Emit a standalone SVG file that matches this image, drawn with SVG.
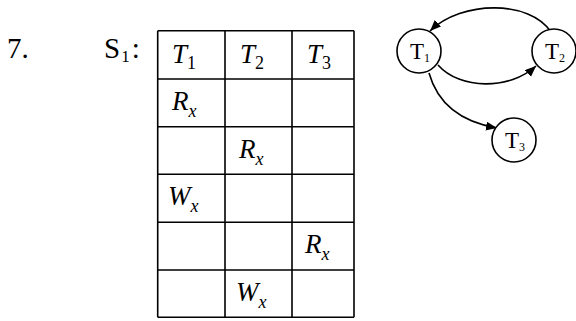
<svg xmlns="http://www.w3.org/2000/svg" width="576" height="321" viewBox="0 0 576 321">
<style>
text{font-family:"Liberation Serif","Times New Roman",serif;fill:#000}
.cell{font-size:27px;font-style:italic}
.sub{font-size:18px;font-style:normal}
.subi{font-size:18px;font-style:italic}
.grid{stroke:#000;stroke-width:1.6;fill:none}
.node circle{fill:#fff;stroke:#000;stroke-width:1.6}
.nt{font-size:23px}
.ns{font-size:12px}
.edge{fill:none;stroke:#000;stroke-width:1.6;marker-end:url(#ah)}
</style>
<defs>
<marker id="ah" markerUnits="userSpaceOnUse" markerWidth="12" markerHeight="10" refX="11" refY="4.5" orient="auto">
<path d="M0,0 L11,4.5 L0,9 z" fill="#000"/>
</marker>
</defs>
<rect width="576" height="321" fill="#fff"/>
<text x="7" y="58" font-size="29">7.</text>
<text x="104" y="58" font-size="29">S<tspan font-size="17" dx="1" dy="4">1</tspan><tspan dx="2" dy="-4">:</tspan></text>
<g id="table">
<path class="grid" d="M157.7 30.7V317.3M225 30.7V317.3M292 30.7V317.3M354 30.7V317.3M157.7 30.7H354M157.7 79H354M157.7 126.7H354M157.7 174.3H354M157.7 222.3H354M157.7 270H354M157.7 317.3H354"/>
<text class="cell" x="172" y="63">T<tspan class="sub" dy="6">1</tspan></text>
<text class="cell" x="240" y="63">T<tspan class="sub" dy="6">2</tspan></text>
<text class="cell" x="307" y="63">T<tspan class="sub" dy="6">3</tspan></text>
<text class="cell" x="172" y="110">R<tspan class="subi" dy="7">x</tspan></text>
<text class="cell" x="239" y="158">R<tspan class="subi" dy="7">x</tspan></text>
<text class="cell" x="168" y="205">W<tspan class="subi" dy="7">x</tspan></text>
<text class="cell" x="305" y="253">R<tspan class="subi" dy="7">x</tspan></text>
<text class="cell" x="236" y="301">W<tspan class="subi" dy="7">x</tspan></text>
</g>
<g id="connectors">
<path class="edge" d="M551 32 C530 0 462 0 430 31"/>
<path class="edge" d="M438 65 C460 90 510 90 536 66"/>
<path class="edge" d="M429 73 C438 105 462 122 497 128"/>
</g>
<g id="T1" class="node"><circle cx="419" cy="51" r="22"/><text class="nt" x="410" y="59">T<tspan class="ns" dy="3">1</tspan></text></g>
<g id="T2" class="node"><circle cx="554" cy="51" r="22"/><text class="nt" x="545" y="59">T<tspan class="ns" dy="3">2</tspan></text></g>
<g id="T3" class="node"><circle cx="514" cy="140" r="22"/><text class="nt" x="505" y="148">T<tspan class="ns" dy="3">3</tspan></text></g>
</svg>
